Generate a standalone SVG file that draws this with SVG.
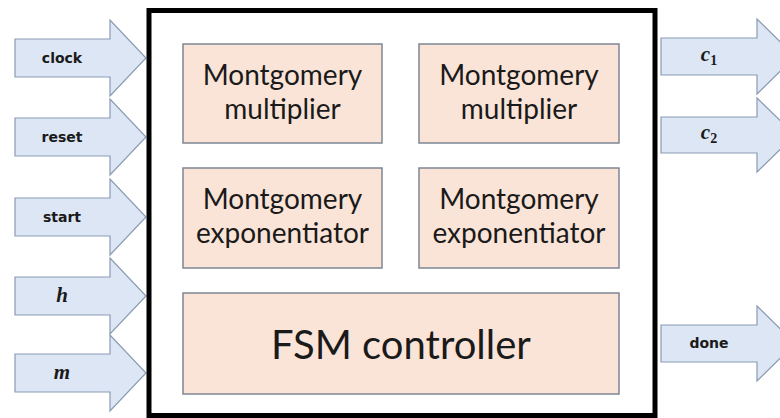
<svg xmlns="http://www.w3.org/2000/svg" width="780" height="418" viewBox="0 0 780 418">
<style>
.arrow{fill:#DCE6F4;stroke:#8A9BB3;stroke-width:1.2}
.blk{fill:#FAE4D7;stroke:#7E8792;stroke-width:1.5}
.lbl{font-family:"Lato","Open Sans",sans-serif;font-size:28px;fill:#1a1a1a;text-anchor:middle}
.big{font-size:40px}
.sig{font-family:"DejaVu Sans",sans-serif;font-weight:bold;font-size:14px;fill:#1a1a1a;text-anchor:middle}
.math{font-family:"Liberation Serif",serif;font-style:italic;font-weight:bold;font-size:21px;fill:#1a1a1a;text-anchor:middle}
.sub{font-size:14px;font-style:normal}
</style>
<rect width="780" height="418" fill="#ffffff"/>
<g id="connectors">
<g id="in-clock"><path class="arrow" d="M15,39 H110 V20 L146,58 L110,96 V77 H15 Z"/><text class="sig" x="62" y="63">clock</text></g>
<g id="in-reset"><path class="arrow" d="M15,118 H110 V99 L146,137 L110,175 V156 H15 Z"/><text class="sig" x="62" y="142">reset</text></g>
<g id="in-start"><path class="arrow" d="M15,198 H110 V179 L146,217 L110,255 V236 H15 Z"/><text class="sig" x="62" y="222">start</text></g>
<g id="in-h"><path class="arrow" d="M15,277 H110 V258 L146,296 L110,334 V315 H15 Z"/><text class="math" x="62" y="302">h</text></g>
<g id="in-m"><path class="arrow" d="M15,354 H110 V335 L146,373 L110,411 V392 H15 Z"/><text class="math" x="62" y="379">m</text></g>
<g id="out-c1"><path class="arrow" d="M661,38 H757 V19 L795,56.5 L757,94 V75 H661 Z"/><text class="math" x="709" y="61">c<tspan class="sub" dy="4">1</tspan></text></g>
<g id="out-c2"><path class="arrow" d="M661,117 H757 V98 L795,135 L757,172 V153 H661 Z"/><text class="math" x="709" y="139">c<tspan class="sub" dy="4">2</tspan></text></g>
<g id="out-done"><path class="arrow" d="M661,325 H757 V306 L795,343.5 L757,381 V362 H661 Z"/><text class="sig" x="709" y="348">done</text></g>
</g>
<g id="top">
<rect x="149" y="10.5" width="506" height="405" fill="#ffffff" stroke="#000000" stroke-width="5"/>
</g>
<g id="mult1"><rect class="blk" x="183" y="44" width="199" height="99"/><text class="lbl" x="282.5" y="85">Montgomery</text><text class="lbl" x="282.5" y="119">multiplier</text></g>
<g id="mult2"><rect class="blk" x="419" y="44" width="200" height="99"/><text class="lbl" x="519" y="85">Montgomery</text><text class="lbl" x="519" y="119">multiplier</text></g>
<g id="exp1"><rect class="blk" x="183" y="168" width="199" height="100"/><text class="lbl" x="282.5" y="209">Montgomery</text><text class="lbl" x="282.5" y="243">exponentiator</text></g>
<g id="exp2"><rect class="blk" x="419" y="168" width="200" height="100"/><text class="lbl" x="519" y="209">Montgomery</text><text class="lbl" x="519" y="243">exponentiator</text></g>
<g id="fsm"><rect class="blk" x="183" y="293" width="436" height="101"/><text class="lbl big" x="401" y="359">FSM controller</text></g>
</svg>
